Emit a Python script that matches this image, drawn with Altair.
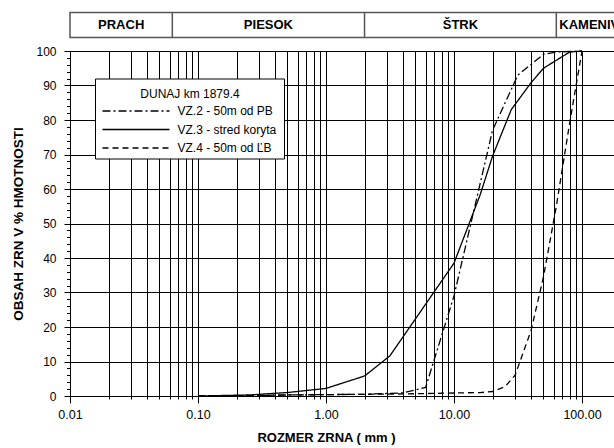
import altair as alt
import pandas as pd

FONT = "Liberation Sans"

# Sample names (legend order)
series_names = ["VZ.2 - 50m od PB", "VZ.3 - stred koryta", "VZ.4 - 50m od ĽB"]
legend_title = "DUNAJ km 1879.4"

# Grain size [mm] and cumulative passing [%] for each sample
vz2_size = [0.1, 0.25, 0.5, 1, 2, 4, 6, 10, 20, 31.5, 50, 63, 100]
vz2_pass = [0, 0.1, 0.3, 0.4, 0.5, 0.9, 2.5, 29, 77, 93, 99, 99.7, 100]

vz3_size = [0.1, 0.25, 0.5, 1, 2, 3.15, 10, 16, 20, 28, 40, 50, 80, 100]
vz3_pass = [0, 0.3, 1.0, 2.2, 5.8, 11.6, 38.5, 58.3, 69.5, 83, 90.8, 95, 99.7, 100]

vz4_size = [0.1, 0.25, 0.5, 1, 2, 4, 8, 16, 20, 25, 30, 40, 50, 63, 80, 100]
vz4_pass = [0, 0.1, 0.3, 0.4, 0.5, 0.6, 0.8, 1.0, 1.3, 2.7, 6, 19, 34.5, 55, 79, 100]

# Soil classes along the grain-size axis (class boundaries in mm)
class_names = ["PRACH", "PIESOK", "ŠTRK", "KAMENIVO"]
class_bounds = [0.01, 0.063, 2, 63]

# Axis tick values
x_ticks = [round(m * 10 ** e, 6) for e in range(-2, 3) for m in range(1, 10) if m * 10 ** e <= 100]
y_ticks = list(range(0, 101, 2))

dash_styles = [[8, 3, 2, 3], [1, 0], [6, 4]]

W, H = 544, 345
PX_PER_DECADE = 128

rows = []
for name, sizes, passing in [
    (series_names[0], vz2_size, vz2_pass),
    (series_names[1], vz3_size, vz3_pass),
    (series_names[2], vz4_size, vz4_pass),
]:
    for s, p in zip(sizes, passing):
        rows.append({"series": name, "size": s, "passing": p})
curves = pd.DataFrame(rows)

decade = "abs(log(datum.value)/LN10 - round(log(datum.value)/LN10)) < 1e-6"
tens = "datum.value % 10 === 0"

x_scale = alt.Scale(type="log", domain=[0.01, 0.01 * 10 ** (W / PX_PER_DECADE)], nice=False)

x_axis = alt.Axis(
    values=x_ticks,
    grid=True, gridColor="#000000", gridWidth=1, gridOpacity=1,
    domainColor="#000000", domainWidth=1,
    tickColor="#000000",
    tickSize={"condition": {"test": decade, "value": 7}, "value": 3},
    labelExpr=f"{decade} ? format(datum.value, '.2f') : ''",
    labelFont=FONT, labelFontSize=12.5, labelColor="#000000", labelPadding=5,
    labelOverlap=False, labelFlush=False,
    title="ROZMER ZRNA  ( mm )", titleFont=FONT, titleFontSize=13,
    titleFontWeight="bold", titleColor="#000000",
    titleX=256, titleY=41, titleAlign="center", titleBaseline="middle",
)

y_axis = alt.Axis(
    values=y_ticks,
    grid=True, gridColor="#000000", gridWidth=1,
    gridOpacity={"condition": {"test": tens, "value": 1}, "value": 0},
    domainColor="#000000", domainWidth=1,
    tickColor="#000000",
    tickSize={"condition": {"test": tens, "value": 6}, "value": 3.5},
    labelExpr=f"{tens} ? format(datum.value, 'd') : ''",
    labelFont=FONT, labelFontSize=12, labelColor="#000000", labelPadding=8,
    labelOverlap=False,
    title="OBSAH ZRN V % HMOTNOSTI", titleFont=FONT, titleFontSize=13.5,
    titleFontWeight="bold", titleColor="#000000",
    titleAngle=270, titleX=-52, titleY=H / 2, titleAlign="center", titleBaseline="middle",
)

lines = alt.Chart(curves).mark_line(color="#000000", strokeWidth=1.3).encode(
    x=alt.X("size:Q", scale=x_scale, axis=x_axis),
    y=alt.Y("passing:Q", scale=alt.Scale(domain=[0, 100], nice=False), axis=y_axis),
    strokeDash=alt.StrokeDash(
        "series:N",
        scale=alt.Scale(domain=series_names, range=dash_styles),
        legend=None,
    ),
    order=alt.Order("size:Q"),
)

one = pd.DataFrame({"k": [0]})
BAND_TOP, BAND_BOT = -38.5, -13.5

band_box = alt.Chart(one).mark_rect(
    fill="#ffffff", stroke="#555555", strokeWidth=1.5
).encode(
    x=alt.value(0), x2=alt.value(W + 20), y=alt.value(BAND_TOP), y2=alt.value(BAND_BOT)
)

band_edges = alt.Chart(pd.DataFrame({"size": class_bounds[1:]})).mark_rule(
    color="#555555", strokeWidth=1.5
).encode(
    x=alt.X("size:Q"), y=alt.value(BAND_TOP), y2=alt.value(BAND_BOT)
)

# class label positions: geometric centre of each closed class
closed = pd.DataFrame({
    "name": class_names[:3],
    "size": [(lo * hi) ** 0.5 for lo, hi in zip(class_bounds[:3], class_bounds[1:4])],
})
band_text = alt.Chart(closed).mark_text(
    font=FONT, fontSize=13, fontWeight="bold", color="#000000",
    align="center", baseline="middle",
).encode(x=alt.X("size:Q"), y=alt.value((BAND_TOP + BAND_BOT) / 2), text="name:N")

# the last class is open-ended, so its label starts at the boundary
open_cls = pd.DataFrame({"name": [class_names[3]], "size": [class_bounds[3]]})
band_text_open = alt.Chart(open_cls).mark_text(
    font=FONT, fontSize=13, fontWeight="bold", color="#000000",
    align="left", baseline="middle", dx=3,
).encode(x=alt.X("size:Q"), y=alt.value((BAND_TOP + BAND_BOT) / 2), text="name:N")

# legend box
LX0, LX1, LY0, LY1 = 25.5, 214.5, 28, 108
legend_box = alt.Chart(one).mark_rect(
    fill="#ffffff", stroke="#000000", strokeWidth=1
).encode(x=alt.value(LX0), x2=alt.value(LX1), y=alt.value(LY0), y2=alt.value(LY1))

legend_head = alt.Chart(one).mark_text(
    font=FONT, fontSize=12, color="#000000", align="center", baseline="middle"
).encode(x=alt.value((LX0 + LX1) / 2), y=alt.value(43), text=alt.value(legend_title))

legend_layers = []
for i, name in enumerate(series_names):
    ly = 60 + 18.5 * i
    legend_layers.append(
        alt.Chart(one).mark_rule(color="#000000", strokeWidth=1.3, strokeDash=dash_styles[i]).encode(
            x=alt.value(32.5), x2=alt.value(99.5), y=alt.value(ly)
        )
    )
    legend_layers.append(
        alt.Chart(one).mark_text(
            font=FONT, fontSize=12, color="#000000", align="left", baseline="middle"
        ).encode(x=alt.value(107.5), y=alt.value(ly), text=alt.value(name))
    )

chart = alt.layer(
    lines, band_box, band_edges, band_text, band_text_open,
    legend_box, legend_head, *legend_layers,
).properties(
    width=W, height=H,
    autosize=alt.AutoSizeParams(type="none"),
    padding={"left": 70, "top": 51, "right": 0, "bottom": 52},
    background="#ffffff",
).configure_view(stroke=None)

chart.save("out.html", embed_options={"renderer": "svg", "actions": False})
